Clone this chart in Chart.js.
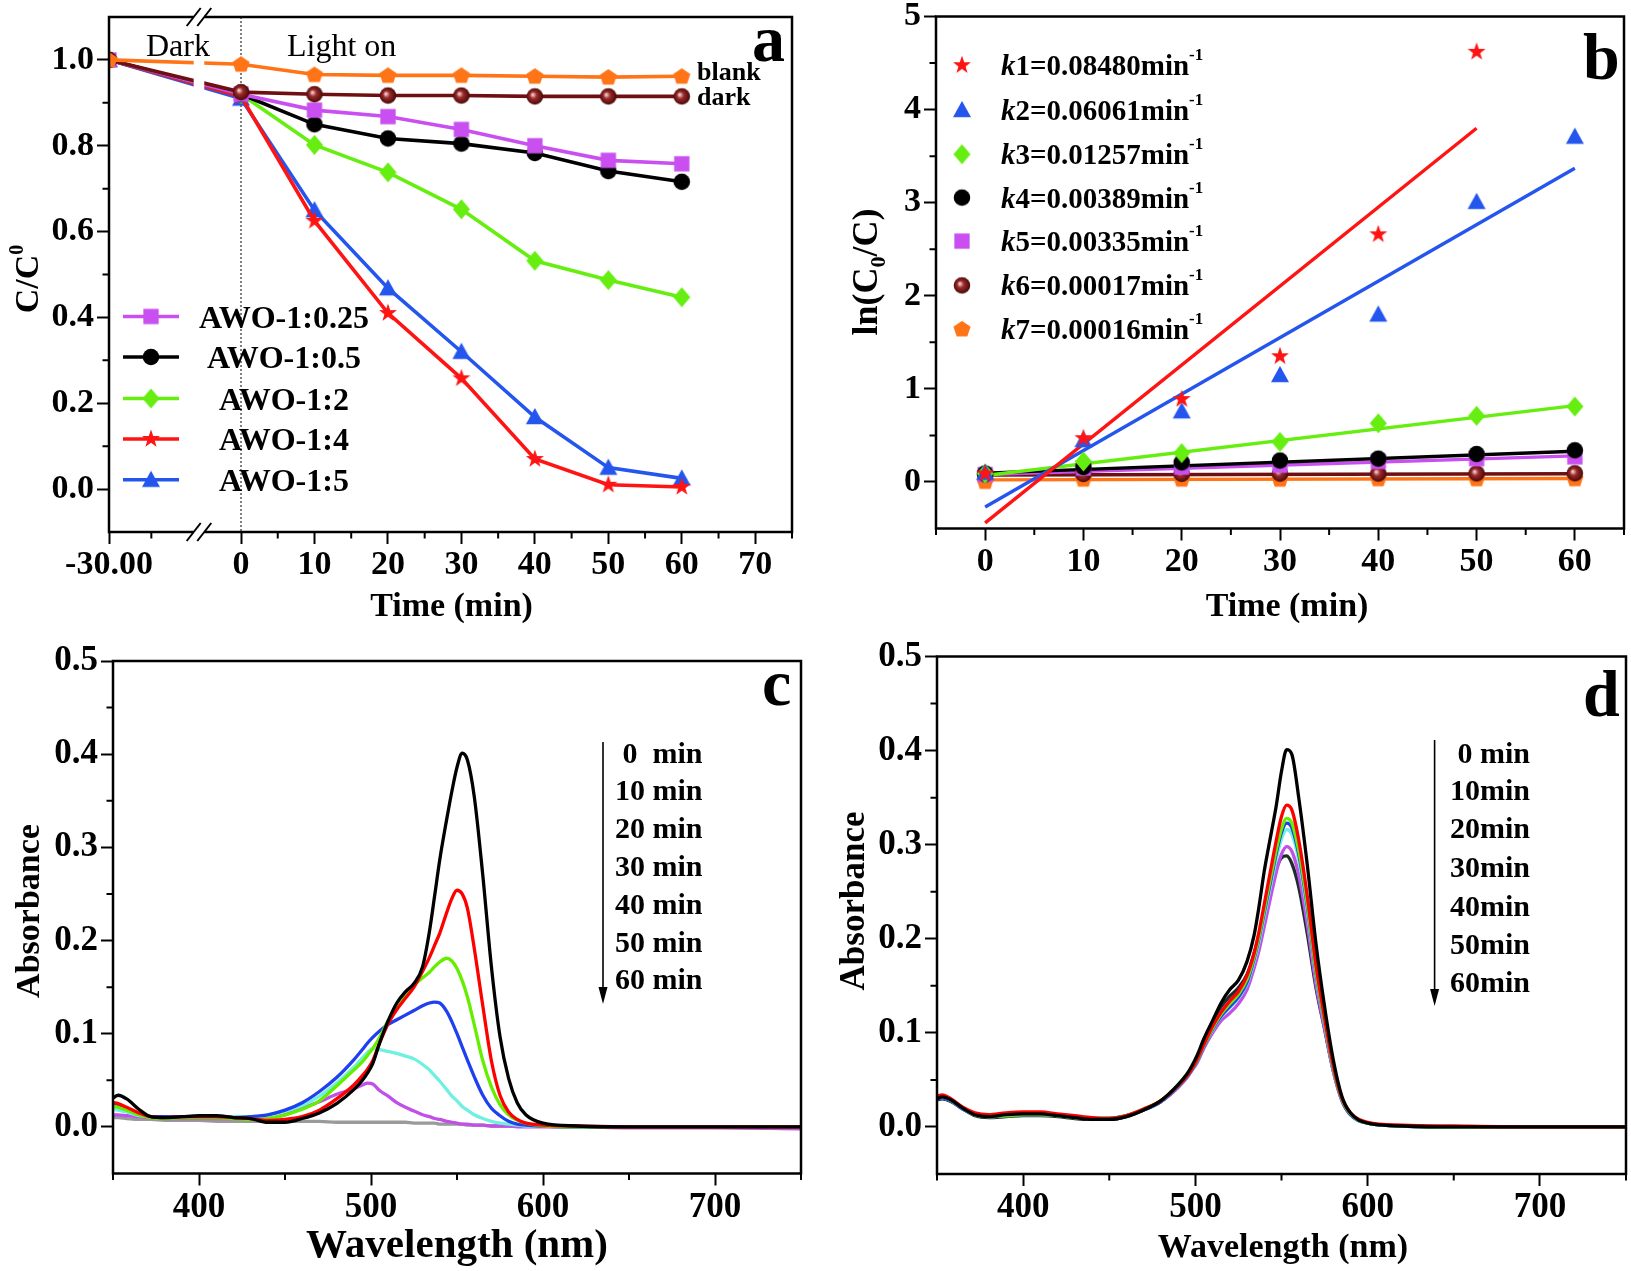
<!DOCTYPE html>
<html><head><meta charset="utf-8">
<script src="https://cdn.jsdelivr.net/npm/chart.js@4.4.1/dist/chart.umd.min.js"></script>
<style>
html,body{margin:0;padding:0;background:#fff;}
#wrap{position:relative;width:1631px;height:1271px;overflow:hidden;background:#fff;}
#wrap canvas{position:absolute;left:0;top:0;}
</style></head><body>
<div id="wrap">
<canvas id="ca" width="1631" height="1271"></canvas>
<canvas id="cb" width="1631" height="1271"></canvas>
<canvas id="cc" width="1631" height="1271"></canvas>
<canvas id="cd" width="1631" height="1271"></canvas>
</div>
<script>
// ================= DATA =================
// Panel a : C/C0 vs time
const timeA = [-30, 0, 10, 20, 30, 40, 50, 60];
const blankA = [1.0, 0.990, 0.966, 0.964, 0.964, 0.962, 0.960, 0.962];
const darkA  = [1.0, 0.925, 0.920, 0.917, 0.917, 0.915, 0.915, 0.915];
const awo025 = [1.0, 0.920, 0.883, 0.868, 0.838, 0.800, 0.766, 0.758];
const awo05  = [1.0, 0.920, 0.850, 0.817, 0.805, 0.783, 0.741, 0.716];
const awo2   = [1.0, 0.920, 0.802, 0.738, 0.652, 0.532, 0.487, 0.447];
const awo4   = [1.0, 0.915, 0.625, 0.410, 0.258, 0.070, 0.010, 0.005];
const awo5   = [1.0, 0.910, 0.650, 0.468, 0.320, 0.168, 0.050, 0.025];
const namesA = ['AWO-1:0.25', 'AWO-1:0.5', 'AWO-1:2', 'AWO-1:4', 'AWO-1:5'];
const ticksAx = [-30, 0, 10, 20, 30, 40, 50, 60, 70];
const minorAx = [-25, 5, 15, 25, 35, 45, 55, 65, 75];
const ticksAy = [0, 0.2, 0.4, 0.6, 0.8, 1.0];
const minorAy = [0.1, 0.3, 0.5, 0.7, 0.9];

// Panel b : ln(C0/C) vs time
const timeB = [0, 10, 20, 30, 40, 50, 60];
const k1pts = [0.09, 0.47, 0.89, 1.35, 2.66, 4.62, null];
const k2pts = [0.10, 0.45, 0.76, 1.15, 1.80, 3.01, 3.71];
const k3pts = [0.09, 0.22, 0.31, 0.43, 0.63, 0.71, 0.81];
const k4pts = [0.09, 0.16, 0.21, 0.23, 0.25, 0.30, 0.34];
const k5pts = [0.08, 0.15, 0.16, 0.18, 0.22, 0.25, 0.27];
const k6pts = [0.08, 0.085, 0.087, 0.09, 0.09, 0.092, 0.093];
const k7pts = [0.005, 0.03, 0.03, 0.03, 0.035, 0.035, 0.035];
const kValues = ['0.08480', '0.06061', '0.01257', '0.00389', '0.00335', '0.00017', '0.00016'];
const fitX = [[0, 50], [0, 60], [0, 60], [0, 60], [0, 60], [0, 60], [0, 60]];
const fitY = [[-0.44, 3.80], [-0.27, 3.37], [0.07, 0.82], [0.095, 0.33], [0.08, 0.28], [0.075, 0.088], [0.022, 0.037]];
const ticksBx = [0, 10, 20, 30, 40, 50, 60];
const minorBx = [-5, 5, 15, 25, 35, 45, 55, 65];
const ticksBy = [0, 1, 2, 3, 4, 5];
const minorBy = [0.5, 1.5, 2.5, 3.5, 4.5];

// Panels c, d : absorbance spectra
const wl = [350,353,358,365,372,380,390,400,410,420,430,440,450,460,470,480,490,495,498,501,505,510,515,520,525,530,534,537,540,544,547,550,553,556,560,565,570,575,580,585,590,600,620,650,700,750];
const c0  = [.031,.034,.030,.019,.011, .010,.011,.012,.012,.010, .009,.005,.005,.009,.015, .025,.040,.050,.058,.068, .090,.114,.133,.145,.154, .172,.210,.248,.287,.330, .360,.386,.401,.394,.355, .270,.172,.097,.052,.026, .013,.004,.001,0,0, 0];
const c10 = [.026,.025,.021,.015,.011, .010,.011,.011,.011,.010, .009,.007,.008,.011,.018, .030,.045,.055,.062,.071, .090,.111,.126,.138,.150, .167,.182,.195,.208,.230, .245,.254,.250,.235,.192, .130,.071,.034,.016,.008, .004,.002,.001,0,0, 0];
const c20 = [.022,.021,.018,.013,.010, .009,.010,.010,.010,.009, .008,.009,.013,.019,.028, .044,.061,.070,.077,.084, .096,.114,.128,.141,.152, .160,.166,.172,.177,.181, .178,.170,.157,.140,.110, .071,.043,.024,.013,.007, .004,.001,0,0,0, 0];
const c30 = [.024,.023,.019,.014,.011, .011,.011,.011,.011,.010, .011,.013,.018,.026,.038, .053,.072,.083,.090,.096, .103,.110,.115,.120,.125, .130,.133,.134,.133,.124, .113,.100,.086,.072,.054, .034,.020,.012,.006,.003, .002,.001,0,0,0, 0];
const c40 = [.019,.018,.016,.012,.011, .011,.011,.011,.011,.011, .011,.013,.017,.023,.033, .047,.064,.074,.080,.084, .083,.081,.079,.076,.073, .067,.061,.055,.049,.040, .033,.028,.022,.018,.013, .009,.006,.004,.003,.002, .001,.001,0,0,0, 0];
const c50 = [.013,.013,.012,.011,.010, .009,.009,.009,.009,.009, .008,.009,.013,.020,.027, .035,.041,.045,.047,.046, .039,.033,.026,.021,.017, .013,.011,.009,.008,.006, .005,.004,.003,.003,.002, .002,.001,.001,.001,0, 0,0,0,-.001,-.001, -.002];
const c60 = [.010,.010,.009,.008,.008, .007,.007,.007,.006,.006, .006,.006,.006,.006,.006, .005,.005,.005,.005,.005, .005,.005,.005,.005,.004, .004,.004,.004,.003,.003, .003,.003,.003,.002,.002, .002,.001,.001,.001,.001, .001,.001,0,0,0, 0];
const d0  = [.030,.032,.029,.020,.013, .011,.013,.014,.014,.012, .010,.008,.008,.011,.018, .028,.045,.056,.065,.076, .094,.113,.132,.146,.156, .176,.203,.235,.272,.312, .342,.378,.401,.396,.350, .278,.195,.128,.072,.033, .015,.004,.001,0,0, 0];
const d10 = [.033,.034,.030,.021,.015, .013,.015,.016,.016,.014, .012,.010,.009,.012,.019, .028,.044,.054,.062,.072, .088,.107,.122,.134,.144, .161,.184,.208,.237,.276, .305,.330,.342,.337,.305, .245,.172,.116,.066,.031, .015,.005,.002,.001,0, 0];
const d20 = [.031,.032,.029,.020,.013, .011,.012,.013,.013,.012, .010,.009,.009,.012,.019, .028,.044,.054,.062,.071, .087,.105,.120,.131,.141, .157,.180,.203,.231,.268, .295,.317,.328,.323,.294, .237,.166,.113,.064,.030, .014,.004,.001,0,0, 0];
const d30 = [.030,.031,.028,.019,.013, .011,.012,.013,.013,.012, .010,.009,.009,.012,.018, .027,.043,.053,.061,.070, .086,.104,.118,.128,.138, .154,.178,.201,.228,.264, .291,.313,.323,.318,.290, .234,.164,.112,.063,.029, .013,.004,.001,0,0, 0];
const d40 = [.030,.031,.028,.019,.013, .011,.012,.013,.013,.012, .010,.009,.009,.012,.018, .027,.043,.053,.061,.070, .086,.103,.117,.127,.137, .152,.175,.197,.224,.259, .285,.306,.316,.311,.284, .229,.161,.110,.062,.029, .013,.004,.001,0,0, 0];
const d50 = [.030,.031,.028,.019,.013, .011,.012,.013,.013,.012, .010,.009,.009,.012,.018, .027,.042,.052,.060,.068, .084,.100,.113,.121,.131, .146,.168,.188,.213,.247, .271,.290,.298,.293,.268, .215,.152,.105,.060,.028, .013,.004,.001,0,0, 0];
const d60 = [.029,.030,.027,.019,.012, .010,.011,.012,.012,.011, .009,.008,.008,.011,.018, .027,.043,.054,.063,.073, .092,.112,.128,.139,.148, .162,.184,.205,.229,.258, .275,.286,.288,.280,.255, .205,.148,.104,.060,.029, .014,.004,.001,0,0, 0];
const timeLabelsC = ['0  min', '10 min', '20 min', '30 min', '40 min', '50 min', '60 min'];
const timeLabelsD = ['0 min', '10min', '20min', '30min', '40min', '50min', '60min'];
const ticksWx = [400, 500, 600, 700];
const minorWx = [350, 450, 550, 650, 750];
const ticksWy = [0, 0.1, 0.2, 0.3, 0.4, 0.5];
const minorWy = [0.05, 0.15, 0.25, 0.35, 0.45];

// ================= STYLE =================
const W = 1631, H = 1271;
const FF = '"Liberation Serif","Times New Roman",Times,serif';
const F = (sz, w = 'bold', st = 'normal') => `${st} ${w} ${sz}px ${FF}`;
const COL = {mag: '#c94ff0', blk: '#000000', grn: '#66ee11', red: '#ff1414', blu: '#2456ee', org: '#ff7417', brn: '#6e0f12'};

function mk(shape, color, s) {
  const c = document.createElement('canvas');
  c.width = c.height = s + 4;
  const g = c.getContext('2d');
  const cx = c.width / 2, cy = c.height / 2, r = s / 2;
  g.fillStyle = color;
  g.beginPath();
  if (shape === 'square') g.rect(cx - r * 0.85, cy - r * 0.85, r * 1.7, r * 1.7);
  else if (shape === 'circle') g.arc(cx, cy, r * 0.92, 0, Math.PI * 2);
  else if (shape === 'diamond') { g.moveTo(cx, cy - r * 1.05); g.lineTo(cx + r * 0.9, cy); g.lineTo(cx, cy + r * 1.05); g.lineTo(cx - r * 0.9, cy); }
  else if (shape === 'triangle') { g.moveTo(cx, cy - r); g.lineTo(cx + r, cy + r * 0.8); g.lineTo(cx - r, cy + r * 0.8); }
  else if (shape === 'star') { for (let i = 0; i < 10; i++) { const an = -Math.PI / 2 + i * Math.PI / 5; const rr = i % 2 ? r * 0.42 : r * 1.05; const px = cx + rr * Math.cos(an), py = cy + rr * Math.sin(an); i ? g.lineTo(px, py) : g.moveTo(px, py); } }
  else if (shape === 'pentagon') { for (let i = 0; i < 5; i++) { const an = -Math.PI / 2 + i * 2 * Math.PI / 5; const px = cx + r * Math.cos(an), py = cy + r * 0.95 * Math.sin(an) + 0.5; i ? g.lineTo(px, py) : g.moveTo(px, py); } }
  else if (shape === 'sphere') {
    const gr = g.createRadialGradient(cx - r * 0.25, cy - r * 0.2, 0.5, cx, cy, r);
    gr.addColorStop(0, '#f4d0d0'); gr.addColorStop(0.35, '#9c2a2a'); gr.addColorStop(1, '#3e0404');
    g.fillStyle = gr; g.arc(cx, cy, r * 0.92, 0, Math.PI * 2);
  }
  g.closePath(); g.fill();
  return c;
}
const MS = 18;
const M = {
  sq: mk('square', COL.mag, MS), ci: mk('circle', COL.blk, MS), di: mk('diamond', COL.grn, MS + 1),
  st: mk('star', COL.red, MS), tr: mk('triangle', COL.blu, MS), pe: mk('pentagon', COL.org, MS), sp: mk('sphere', COL.brn, MS)
};

// -------- broken x scale for panel a --------
const BRK = {loStart: -30, loEnd: -20, loFrac: 0.124, hiStart: -5, hiEnd: 75, hiFrac: 0.1395};
class BrokenScale extends Chart.LinearScale {
  getPixelForValue(v) {
    let f;
    if (v <= BRK.loEnd) f = (v - BRK.loStart) / (BRK.loEnd - BRK.loStart) * BRK.loFrac;
    else f = BRK.hiFrac + (v - BRK.hiStart) / (BRK.hiEnd - BRK.hiStart) * (1 - BRK.hiFrac);
    return this.left + f * this.width;
  }
  getValueForPixel(p) {
    const f = (p - this.left) / this.width;
    if (f <= BRK.loFrac) return BRK.loStart + f / BRK.loFrac * (BRK.loEnd - BRK.loStart);
    return BRK.hiStart + (f - BRK.hiFrac) / (1 - BRK.hiFrac) * (BRK.hiEnd - BRK.hiStart);
  }
}
BrokenScale.id = 'broken';
BrokenScale.defaults = Chart.LinearScale.defaults;
Chart.register(BrokenScale);

function axis(type, min, max, majors, fmt, isX, yw, fs) {
  return {
    type, min, max,
    grid: {drawOnChartArea: false, drawTicks: true, tickLength: 12, tickWidth: 2, tickColor: '#000'},
    border: {display: false},
    ticks: {autoSkip: false, maxRotation: 0, minRotation: 0, color: '#000', padding: isX ? 1 : 3,
      font: {family: FF, size: fs, weight: 'bold', lineHeight: 1.2}, callback: fmt},
    afterBuildTicks: s => { s.ticks = majors.map(v => ({value: v})); },
    afterFit: s => { if (isX) s.height = 60; else s.width = yw; s.paddingLeft = s.paddingRight = s.paddingTop = s.paddingBottom = 0; }
  };
}

function rich(ctx, parts, x, y, align, rot) {
  ctx.save(); ctx.translate(x, y); if (rot) ctx.rotate(rot);
  ctx.textBaseline = 'alphabetic'; ctx.textAlign = 'left'; ctx.fillStyle = '#000';
  let w = 0;
  parts.forEach(p => { ctx.font = p.f; p.w = ctx.measureText(p.t).width; w += p.w; });
  let cx = align === 'center' ? -w / 2 : (align === 'right' ? -w : 0);
  parts.forEach(p => { ctx.font = p.f; ctx.fillText(p.t, cx, p.dy || 0); cx += p.w; });
  ctx.restore();
}
function txt(ctx, s, x, y, font, align = 'left', base = 'alphabetic') {
  ctx.font = font; ctx.textAlign = align; ctx.textBaseline = base; ctx.fillStyle = '#000'; ctx.fillText(s, x, y);
}
function downArrow(ctx, x, y0, y1) {
  ctx.strokeStyle = '#000'; ctx.fillStyle = '#000'; ctx.lineWidth = 1.6;
  ctx.beginPath(); ctx.moveTo(x, y0); ctx.lineTo(x, y1 - 12); ctx.stroke();
  ctx.beginPath(); ctx.moveTo(x - 4.5, y1 - 17); ctx.lineTo(x + 4.5, y1 - 17); ctx.lineTo(x, y1); ctx.closePath(); ctx.fill();
}

function deco(minorX, minorY, extra, before) {
  return {
    id: 'deco',
    beforeDatasetsDraw(chart) { if (before) { chart.ctx.save(); before(chart, chart.ctx); chart.ctx.restore(); } },
    afterDraw(chart) {
      const ctx = chart.ctx, a = chart.chartArea, xs = chart.scales.x, ys = chart.scales.y;
      ctx.save(); ctx.strokeStyle = '#000'; ctx.lineWidth = 2; ctx.beginPath();
      minorX.forEach(v => { const p = xs.getPixelForValue(v); ctx.moveTo(p, a.bottom); ctx.lineTo(p, a.bottom + 6.5); });
      minorY.forEach(v => { const p = ys.getPixelForValue(v); ctx.moveTo(a.left, p); ctx.lineTo(a.left - 6.5, p); });
      ctx.stroke();
      ctx.lineWidth = 2.5; ctx.strokeRect(a.left, a.top, a.right - a.left, a.bottom - a.top);
      ctx.restore();
      if (extra) { ctx.save(); extra(chart, ctx); ctx.restore(); }
    }
  };
}

function build(id, type, datasets, area, xAxis, yAxis, plugin) {
  return new Chart(document.getElementById(id), {
    type, data: {datasets},
    options: {
      responsive: false, devicePixelRatio: 1, animation: false, events: [],
      layout: {padding: {left: area.padL, top: area.top, right: W - area.right, bottom: H - area.bottom - 60}},
      plugins: {legend: {display: false}, tooltip: {enabled: false}},
      scales: {x: xAxis, y: yAxis}
    },
    plugins: [plugin]
  });
}
const xy = (xs, ys) => xs.map((x, i) => ({x, y: ys[i]}));

// ================= PANEL A =================
const seriesA = [
  {label: 'blank', d: blankA, c: COL.org, m: M.pe},
  {label: 'dark', d: darkA, c: COL.brn, m: M.sp},
  {label: namesA[0], d: awo025, c: COL.mag, m: M.sq},
  {label: namesA[1], d: awo05, c: COL.blk, m: M.ci},
  {label: namesA[2], d: awo2, c: COL.grn, m: M.di},
  {label: namesA[3], d: awo4, c: COL.red, m: M.st},
  {label: namesA[4], d: awo5, c: COL.blu, m: M.tr}
];
const dsA = seriesA.map(s => ({label: s.label, data: xy(timeA, s.d), borderColor: s.c, borderWidth: 3.6,
  pointStyle: s.m, pointRadius: 6, tension: 0, fill: false}));
build('ca', 'line', dsA, {padL: 0, top: 17, right: 792, bottom: 532},
  axis('broken', -30, 75, ticksAx, v => v === -30 ? '-30.00' : String(v), true, 0, 34),
  axis('linear', -0.1, 1.1, ticksAy, v => v.toFixed(1), false, 109, 34),
  deco(minorAx, minorAy, (chart, ctx) => {
    const a = chart.chartArea, xs = chart.scales.x;
    const g0 = xs.getPixelForValue(BRK.loEnd), g1 = xs.getPixelForValue(BRK.hiStart);
    ctx.fillStyle = '#fff'; ctx.fillRect(g0, a.top - 3, g1 - g0, a.bottom - a.top + 6);
    ctx.strokeStyle = '#000'; ctx.lineWidth = 2;
    [a.top, a.bottom].forEach(y => [g0, g1].forEach(x => { ctx.beginPath(); ctx.moveTo(x - 7, y + 9); ctx.lineTo(x + 7, y - 9); ctx.stroke(); }));
    txt(ctx, 'Dark', 146, 56, F(32, 'normal'));
    txt(ctx, 'Light on', 287, 56, F(32, 'normal'));
    txt(ctx, 'blank', 697, 80, F(26));
    txt(ctx, 'dark', 697, 105, F(26));
    txt(ctx, 'a', 752, 61, F(66));
    const rows = [316.5, 357, 398.5, 439, 479.7];
    seriesA.slice(2).forEach((s, i) => {
      const y = rows[i];
      ctx.strokeStyle = s.c; ctx.lineWidth = 3.6; ctx.beginPath(); ctx.moveTo(123, y); ctx.lineTo(179, y); ctx.stroke();
      ctx.drawImage(s.m, 151 - s.m.width / 2, y - s.m.height / 2);
      txt(ctx, s.label, 284, y + 11, F(32), 'center');
    });
    rich(ctx, [{t: 'C/C', f: F(34)}, {t: '0', f: F(20), dy: -15}], 38, 279, 'center', -Math.PI / 2);
    txt(ctx, 'Time (min)', 451.5, 615.5, F(34), 'center');
  }, (chart, ctx) => {
    const a = chart.chartArea, x0 = chart.scales.x.getPixelForValue(0);
    ctx.strokeStyle = '#000'; ctx.lineWidth = 1; ctx.setLineDash([2, 2]);
    ctx.beginPath(); ctx.moveTo(x0, a.top); ctx.lineTo(x0, a.bottom); ctx.stroke();
  }));

// ================= PANEL B =================
const seriesB = [
  {d: k1pts, c: COL.red, m: M.st}, {d: k2pts, c: COL.blu, m: M.tr}, {d: k3pts, c: COL.grn, m: M.di},
  {d: k4pts, c: COL.blk, m: M.ci}, {d: k5pts, c: COL.mag, m: M.sq}, {d: k6pts, c: COL.brn, m: M.sp},
  {d: k7pts, c: COL.org, m: M.pe}
];
const dsB = seriesB.map((s, i) => ({label: 'k' + (i + 1), data: xy(timeB, s.d), showLine: false,
  pointStyle: s.m, pointRadius: 6, borderColor: s.c, backgroundColor: s.c}))
  .concat(seriesB.map((s, i) => ({label: 'fit k' + (i + 1), data: xy(fitX[i], fitY[i]), showLine: true,
  pointRadius: 0, borderColor: s.c, borderWidth: 3.4, tension: 0})));
build('cb', 'scatter', dsB, {padL: 815, top: 16.5, right: 1624, bottom: 528.5},
  axis('linear', -5, 65, ticksBx, v => String(v), true, 0, 34),
  axis('linear', -0.5, 5, ticksBy, v => String(v), false, 121, 34),
  deco(minorBx, minorBy, (chart, ctx) => {
    const rows = [65.2, 109.9, 154.2, 197.6, 241.1, 285.4, 328.9];
    seriesB.forEach((s, i) => {
      const y = rows[i];
      ctx.drawImage(s.m, 962 - s.m.width / 2, y - s.m.height / 2);
      rich(ctx, [{t: 'k', f: F(29, 'bold', 'italic')}, {t: (i + 1) + '=' + kValues[i] + 'min', f: F(29)}, {t: '-1', f: F(17), dy: -15}], 1001, y + 10, 'left');
    });
    txt(ctx, 'b', 1583, 79, F(66));
    rich(ctx, [{t: 'ln(C', f: F(36)}, {t: '0', f: F(22), dy: 8}, {t: '/C)', f: F(36)}], 877, 272, 'center', -Math.PI / 2);
    txt(ctx, 'Time (min)', 1287, 615.5, F(34), 'center');
  }));

// ================= PANELS C, D =================
const colC = ['#000000', '#ff0000', '#66ee00', '#2040f0', '#70f0e0', '#c050e8', '#9a9a9a'];
const colD = ['#000000', '#ff0000', '#66ee00', '#2040f0', '#70f0e0', '#c050e8', '#1e2c2c'];
const specC = [c0, c10, c20, c30, c40, c50, c60];
const specD = [d0, d10, d20, d30, d40, d50, d60];
function specSets(arr, cols, lbls) {
  return arr.map((d, i) => ({label: lbls[i], data: xy(wl, d), borderColor: cols[i], borderWidth: 3.3,
    pointRadius: 0, cubicInterpolationMode: 'monotone', fill: false}));
}
build('cc', 'line', specSets(specC, colC, timeLabelsC), {padL: 0, top: 661, right: 801, bottom: 1173.5},
  axis('linear', 350, 750, ticksWx, v => String(v), true, 0, 35),
  axis('linear', -0.05, 0.5, ticksWy, v => v.toFixed(1), false, 113, 35),
  deco(minorWx, minorWy, (chart, ctx) => {
    downArrow(ctx, 603, 742, 1004);
    const rows = [752.8, 790, 827.5, 865.6, 904.2, 941.6, 979];
    timeLabelsC.forEach((s, i) => txt(ctx, s, 702.5, rows[i] + 10, F(30), 'right'));
    txt(ctx, 'c', 762, 705, F(66));
    rich(ctx, [{t: 'Absorbance', f: F(34)}], 39, 911, 'center', -Math.PI / 2);
    txt(ctx, 'Wavelength (nm)', 457, 1257, F(41), 'center');
  }));
build('cd', 'line', specSets(specD, colD, timeLabelsD), {padL: 815, top: 656.5, right: 1626, bottom: 1174},
  axis('linear', 350, 750, ticksWx, v => String(v), true, 0, 35),
  axis('linear', -0.05, 0.5, ticksWy, v => v.toFixed(1), false, 122, 35),
  deco(minorWx, minorWy, (chart, ctx) => {
    downArrow(ctx, 1434.6, 740, 1006);
    const rows = [752.8, 790, 828.3, 866.9, 905.5, 943.7, 981.8];
    timeLabelsD.forEach((s, i) => txt(ctx, s, 1530, rows[i] + 10, F(30), 'right'));
    txt(ctx, 'd', 1583, 715.5, F(66));
    rich(ctx, [{t: 'Absorbance', f: F(35)}], 864, 901, 'center', -Math.PI / 2);
    txt(ctx, 'Wavelength (nm)', 1283, 1256.5, F(34), 'center');
  }));
</script>
</body></html>
